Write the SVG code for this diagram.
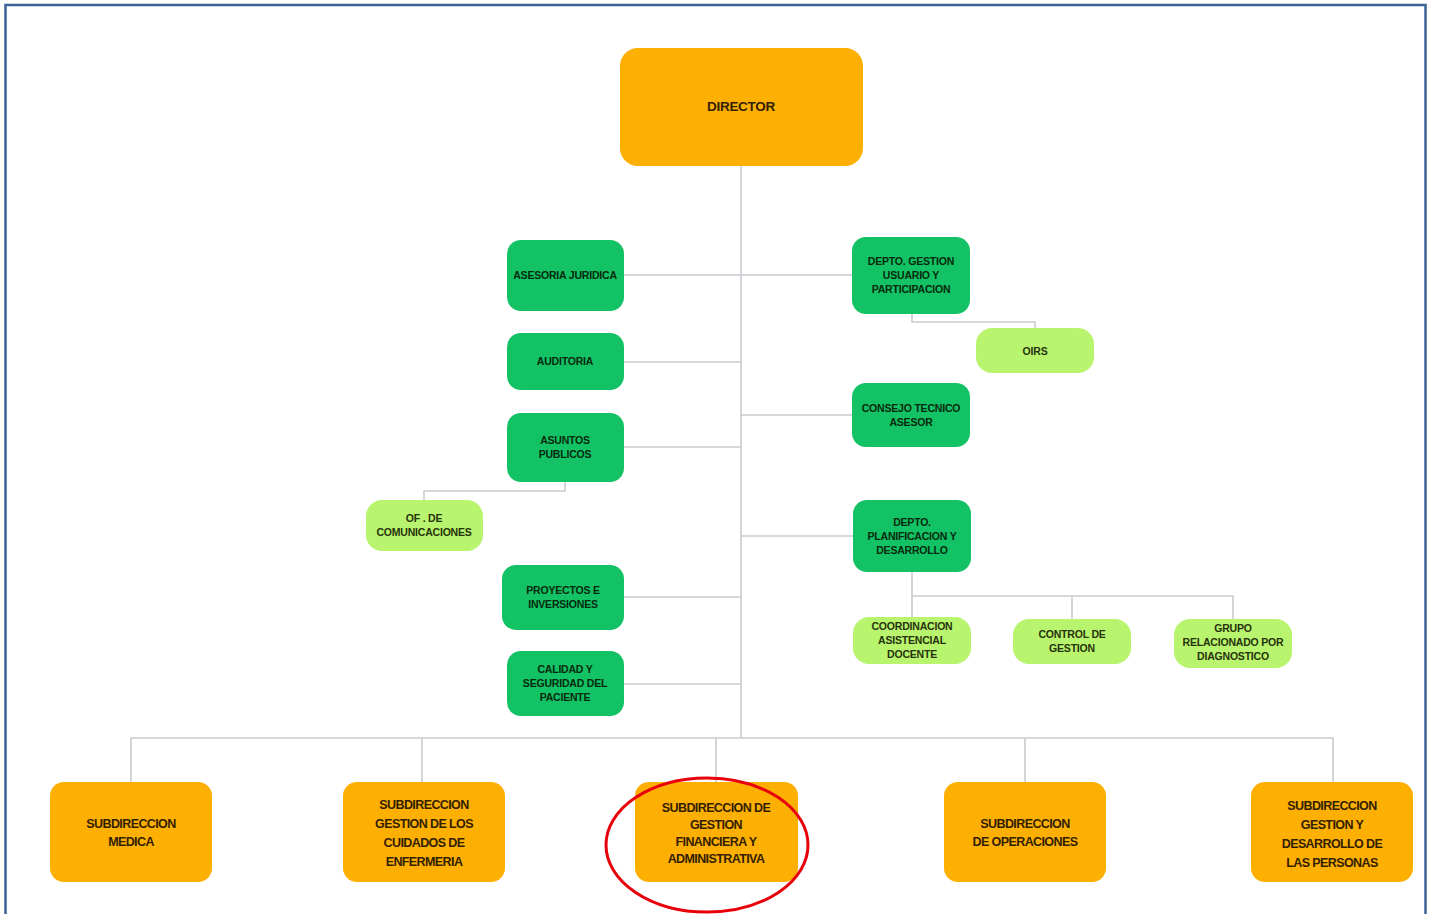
<svg xmlns="http://www.w3.org/2000/svg" width="1431" height="914" viewBox="0 0 1431 914">
<style>
.frame{fill:#fff;stroke:#3a6396;stroke-width:2.5}
.ln{fill:none;stroke:#c9ccd0;stroke-width:1.6}
.or{fill:#fdb002}
.gr{fill:#12c264}
.lg{fill:#b9f46f}
.t{font-family:"Liberation Sans",Arial,sans-serif;font-weight:bold;text-anchor:middle}
.tg{font-size:10.5px;fill:#062a0e;letter-spacing:-0.2px}
.tl{font-size:10.5px;fill:#26330a;letter-spacing:-0.2px}
.to{font-size:12.5px;fill:#332000;letter-spacing:-0.6px}
.td{font-size:13.5px;fill:#332000;letter-spacing:-0.3px}
</style>
<rect class="frame" x="5.5" y="5" width="1420" height="920"/>
<g id="connectors">
<path class="ln" d="M741 166V738"/>
<path class="ln" d="M624 275H852"/>
<path class="ln" d="M624 362H741"/>
<path class="ln" d="M741 415H852"/>
<path class="ln" d="M624 447H741"/>
<path class="ln" d="M741 536H853"/>
<path class="ln" d="M624 597H741"/>
<path class="ln" d="M624 684H741"/>
<path class="ln" d="M912 314V322H1035V328"/>
<path class="ln" d="M565 482V491H424V500"/>
<path class="ln" d="M912 572V617M912 596H1233V619M1072 596V619"/>
<path class="ln" d="M131 782V738H1333V782M422 738V782M716 738V782M1025 738V782"/>
</g>
<g id="director"><rect class="or" x="620" y="48" width="243" height="118" rx="18"/><text class="t td" x="741" y="111">DIRECTOR</text></g>
<g id="asesoria"><rect class="gr" x="507" y="240" width="117" height="71" rx="14"/><text class="t tg" x="565" y="279">ASESORIA JURIDICA</text></g>
<g id="depto-gestion"><rect class="gr" x="852" y="237" width="118" height="77" rx="14"/><text class="t tg" x="911" y="265">DEPTO. GESTION</text><text class="t tg" x="911" y="279">USUARIO Y</text><text class="t tg" x="911" y="293">PARTICIPACION</text></g>
<g id="oirs"><rect class="lg" x="976" y="328" width="118" height="45" rx="16"/><text class="t tl" x="1035" y="355">OIRS</text></g>
<g id="auditoria"><rect class="gr" x="507" y="333" width="117" height="57" rx="14"/><text class="t tg" x="565" y="365">AUDITORIA</text></g>
<g id="consejo"><rect class="gr" x="852" y="383" width="118" height="64" rx="14"/><text class="t tg" x="911" y="412">CONSEJO TECNICO</text><text class="t tg" x="911" y="426">ASESOR</text></g>
<g id="asuntos"><rect class="gr" x="507" y="413" width="117" height="69" rx="14"/><text class="t tg" x="565" y="444">ASUNTOS</text><text class="t tg" x="565" y="458">PUBLICOS</text></g>
<g id="comunicaciones"><rect class="lg" x="366" y="500" width="117" height="51" rx="16"/><text class="t tl" x="424" y="522">OF . DE</text><text class="t tl" x="424" y="536">COMUNICACIONES</text></g>
<g id="planificacion"><rect class="gr" x="853" y="500" width="118" height="72" rx="14"/><text class="t tg" x="912" y="526">DEPTO.</text><text class="t tg" x="912" y="540">PLANIFICACION Y</text><text class="t tg" x="912" y="554">DESARROLLO</text></g>
<g id="proyectos"><rect class="gr" x="502" y="565" width="122" height="65" rx="14"/><text class="t tg" x="563" y="594">PROYECTOS E</text><text class="t tg" x="563" y="608">INVERSIONES</text></g>
<g id="calidad"><rect class="gr" x="507" y="651" width="117" height="65" rx="14"/><text class="t tg" x="565" y="673">CALIDAD Y</text><text class="t tg" x="565" y="687">SEGURIDAD DEL</text><text class="t tg" x="565" y="701">PACIENTE</text></g>
<g id="coordinacion"><rect class="lg" x="853" y="617" width="118" height="47" rx="16"/><text class="t tl" x="912" y="630">COORDINACION</text><text class="t tl" x="912" y="644">ASISTENCIAL</text><text class="t tl" x="912" y="658">DOCENTE</text></g>
<g id="control"><rect class="lg" x="1013" y="619" width="118" height="45" rx="16"/><text class="t tl" x="1072" y="638">CONTROL DE</text><text class="t tl" x="1072" y="652">GESTION</text></g>
<g id="grupo"><rect class="lg" x="1174" y="619" width="118" height="49" rx="16"/><text class="t tl" x="1233" y="632">GRUPO</text><text class="t tl" x="1233" y="646">RELACIONADO POR</text><text class="t tl" x="1233" y="660">DIAGNOSTICO</text></g>
<g id="sub-medica"><rect class="or" x="50" y="782" width="162" height="100" rx="14"/><text class="t to" x="131" y="828">SUBDIRECCION</text><text class="t to" x="131" y="846">MEDICA</text></g>
<g id="sub-enfermeria"><rect class="or" x="343" y="782" width="162" height="100" rx="14"/><text class="t to" x="424" y="809">SUBDIRECCION</text><text class="t to" x="424" y="828">GESTION DE LOS</text><text class="t to" x="424" y="847">CUIDADOS DE</text><text class="t to" x="424" y="866">ENFERMERIA</text></g>
<g id="sub-financiera"><rect class="or" x="635" y="782" width="163" height="100" rx="14"/><text class="t to" x="716" y="812">SUBDIRECCION DE</text><text class="t to" x="716" y="829">GESTION</text><text class="t to" x="716" y="846">FINANCIERA Y</text><text class="t to" x="716" y="863">ADMINISTRATIVA</text></g>
<g id="sub-operaciones"><rect class="or" x="944" y="782" width="162" height="100" rx="14"/><text class="t to" x="1025" y="828">SUBDIRECCION</text><text class="t to" x="1025" y="846">DE OPERACIONES</text></g>
<g id="sub-personas"><rect class="or" x="1251" y="782" width="162" height="100" rx="14"/><text class="t to" x="1332" y="810">SUBDIRECCION</text><text class="t to" x="1332" y="829">GESTION Y</text><text class="t to" x="1332" y="848">DESARROLLO DE</text><text class="t to" x="1332" y="867">LAS PERSONAS</text></g>
<ellipse id="highlight" cx="707" cy="845" rx="101" ry="67" fill="none" stroke="#e8000b" stroke-width="3"/>
</svg>
